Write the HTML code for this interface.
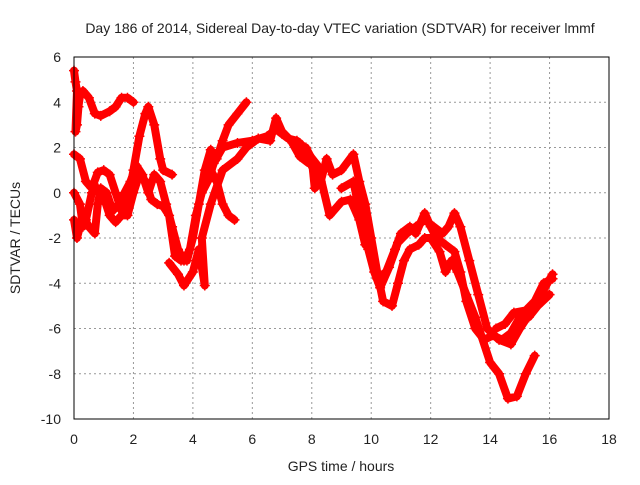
<!DOCTYPE html>
<html><head><meta charset="utf-8"><style>
body{margin:0;background:#fff}
svg text{font-family:"Liberation Sans",sans-serif;font-size:14px;fill:#222}
</style></head><body>
<svg id="chart" width="640" height="480">
<text x="340" y="33" text-anchor="middle">Day 186 of 2014, Sidereal Day-to-day VTEC variation (SDTVAR) for receiver lmmf</text>
<text transform="translate(20,238) rotate(-90)" text-anchor="middle">SDTVAR / TECUs</text>
<text x="341" y="471" text-anchor="middle">GPS time / hours</text>
<g id="grid"></g><g id="ticks"></g><g id="marks"></g>
<rect x="74" y="57" width="535" height="362" fill="none" stroke="#000" stroke-width="1"/>
</svg>
<script>
const xTicks=[0,2,4,6,8,10,12,14,16,18];
const yTicks=[6,4,2,0,-2,-4,-6,-8,-10];
const t1x=[0,0.05,0.1,0.05,0.1,0.15,0.2,0.3,0.5,0.7,0.9,1.2,1.4,1.6,1.8,2.0];
const t1y=[5.4,4.9,4.5,2.7,3.0,3.8,4.3,4.5,4.2,3.5,3.4,3.6,3.8,4.2,4.2,4.0];
const t2x=[0,0.2,0.4,0.6,0.8,1.0,1.2,1.4,1.6,1.8,2.0,2.2,2.4,2.5,2.7,2.9,3.0,3.3];
const t2y=[1.7,1.5,0.5,0.2,0.9,1.0,0.8,0.0,-0.8,-0.5,1.0,2.5,3.5,3.8,3.0,1.5,1.0,0.8];
const t3x=[0,0.2,0.3,0.4,0.6,0.8,1.0,1.2,1.4,1.6,1.8,2.0,2.2,2.4,2.6,2.8,3.0,3.2,3.4,3.6,3.8,4.0,4.2,4.4,4.6,4.8,5.0,5.2,5.5,5.8];
const t3y=[0,-0.5,-1.5,-1.2,0,0.2,-0.2,-1.0,-1.3,-1.0,-1.0,0,0.8,0.5,-0.3,-0.5,-0.6,-1,-2.8,-3.0,-3.0,-2.0,-0.5,1,1.9,1.5,2.3,3.0,3.5,4.0];
const t4x=[0,0.1,0.3,0.5,0.7,0.8,0.9,1.1,1.3,1.5,1.7,1.9,2.1,2.3,2.5,2.7,2.9,3.1,3.3,3.5,3.7,3.9,4.1,4.3,4.5,4.7,5.0,5.5,6.0,6.5,6.8,7.0,7.2,7.5,7.8];
const t4y=[-1.2,-2,-1.0,-1.5,-1.8,-0.5,0.2,0,-0.8,-0.5,0,0.5,1.2,0.8,0,0.8,0.5,-0.5,-1.5,-2.5,-3,-2.5,-1,0,0.5,1.3,2,2.2,2.3,2.5,2.8,2.6,2.4,2.3,1.5];
const t5x=[4.6,4.8,5.0,5.2,5.4];
const t5y=[1.0,0.5,-0.5,-1.0,-1.2];
const t6x=[3.2,3.5,3.7,4.0,4.2,4.4,4.3,4.6,5.0,5.5,5.8,6.2,6.6,6.8,7.0,7.3,7.6,7.9];
const t6y=[-3.1,-3.6,-4.1,-3.5,-2.5,-4.1,-2,-0.5,1.0,1.5,2.0,2.4,2.3,3.3,2.7,2.3,1.6,1.3];
const r1x=[7.8,8.0,8.1,8.3,8.5,8.7,9.0,9.4,9.6,9.8,10,10.2,10.4,10.7,10.9,11.1,11.3,11.6,11.8,12.0,12.3,12.5,12.7,12.9,13.2,13.5,13.7,14.0,14.3,14.6,14.9,15.2,15.5];
const r1y=[2.0,1.5,0.2,0.5,1.5,0.8,1.0,1.7,0.5,-0.5,-2,-3.5,-4.8,-5.0,-4,-3,-2.5,-2.3,-2.0,-2.0,-2.6,-3.5,-3.0,-3.5,-4.5,-5.5,-6.3,-7.5,-8,-9.1,-9.0,-8,-7.2];
const r2x=[9.0,9.4,9.6,9.9,10.1,10.3,10.6,10.9,11.2,11.5,11.8,12.1,12.4,12.6,12.8,13.0,13.3,13.6,13.9,14.3,14.7,15.0,15.4,15.8,16.1];
const r2y=[0.2,0.5,-0.8,-2.5,-3.5,-4.2,-3.3,-2.2,-1.8,-1.5,-1.2,-1.5,-1.8,-1.5,-0.9,-1.5,-3,-4.5,-6,-6.5,-6.7,-6.0,-5.2,-4.3,-3.6];
const r3x=[10.2,10.5,10.8,11.0,11.3,11.5,11.8,12.0,12.2,12.5,12.8,13.0,13.2,13.5,13.8,14.1,14.4,14.7,15.0,15.3,15.6,16.0];
const r3y=[-3.8,-3.5,-2.5,-1.8,-1.5,-1.8,-0.9,-1.5,-2,-2.3,-2.6,-3.5,-4.8,-6,-6.5,-6.3,-6.5,-6.2,-5.5,-5.5,-5.0,-4.5];
const r4x=[14.2,14.5,14.8,15.2,15.5,15.8,16.1];
const r4y=[-6.0,-5.8,-5.3,-5.2,-4.8,-4.0,-3.8];
const r5x=[7.6,8.2,8.6,9.0,9.3,9.6,9.8];
const r5y=[2.2,1.2,-1.0,-0.4,-0.3,-1.2,-2.3];
const seriesX=[t1x,t2x,t3x,t4x,t5x,t6x,r1x,r2x,r3x,r4x,r5x];
const seriesY=[t1y,t2y,t3y,t4y,t5y,t6y,r1y,r2y,r3y,r4y,r5y];

const NS="http://www.w3.org/2000/svg";
const X=v=>74+v*(535/18), Y=v=>57+(6-v)*(362/16);
const grid=document.getElementById('grid'), ticks=document.getElementById('ticks'), marks=document.getElementById('marks');
function mk(tag,attrs,parent){const e=document.createElementNS(NS,tag);for(const k in attrs)e.setAttribute(k,attrs[k]);parent.appendChild(e);return e;}
xTicks.forEach(t=>{
  if(t>0&&t<18){const g=mk('line',{x1:X(t),x2:X(t),y1:57,y2:419,stroke:'#999','stroke-dasharray':'2,3'},grid);
  
  }
  const l=mk('text',{x:X(t),y:444,'text-anchor':'middle'},ticks);l.textContent=t;
  
  
});
yTicks.forEach(t=>{
  if(t<6&&t>-10){const g=mk('line',{x1:74,x2:609,y1:Y(t),y2:Y(t),stroke:'#999','stroke-dasharray':'2,3'},grid);
  
  }
  const l=mk('text',{x:61,y:Y(t)+5,'text-anchor':'end'},ticks);l.textContent=t;
  
  
});
seriesX.forEach((xs,i)=>{
  const ys=seriesY[i];
  const pts=xs.map((x,j)=>X(x)+','+Y(ys[j])).join(' ');
  const p=mk('polyline',{points:pts,fill:'none',stroke:'#ff0000','stroke-width':8,'stroke-linejoin':'round','stroke-linecap':'round'},marks);
  
  
  xs.forEach((x,j)=>{
    const cx=X(x),cy=Y(ys[j]);
    const m=mk('path',{d:`M${cx-5},${cy}H${cx+5}M${cx},${cy-5}V${cy+5}`,stroke:'#ff0000','stroke-width':1.5},marks);
    
    
  });
});
</script>
</body></html>
